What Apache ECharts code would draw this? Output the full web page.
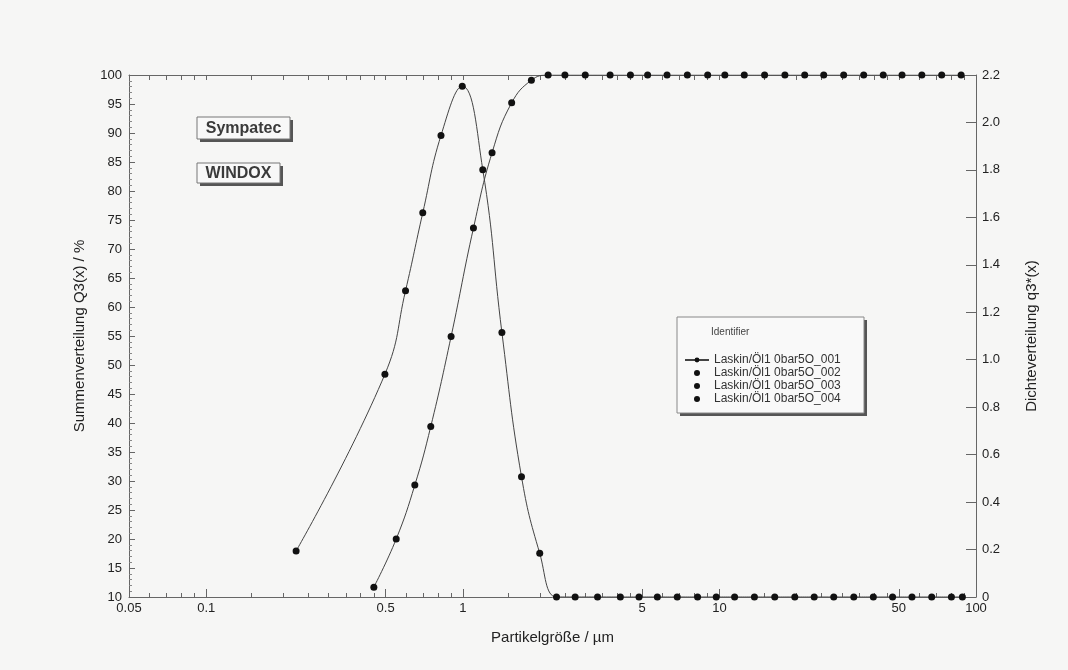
<!DOCTYPE html>
<html>
<head>
<meta charset="utf-8">
<script src="https://cdn.jsdelivr.net/npm/echarts@6/dist/echarts.min.js"></script>
<style>
html,body{margin:0;padding:0;background:#f6f6f5;}
#chart{width:1068px;height:670px;}
</style>
</head>
<body>
<div id="chart"></div>
<script>
// Cumulative distribution Q3(x) (upper class limits, %)
const q3SumX = [0.45, 0.55, 0.65, 0.75, 0.9, 1.1, 1.3, 1.55, 1.85, 2.15, 2.5, 3.0, 3.75, 4.5, 5.25, 6.25, 7.5, 9.0, 10.5, 12.5, 15, 18, 21.5, 25.5, 30.5, 36.5, 43.5, 51.5, 61.5, 73.5, 87.5];
const q3SumY = [11.7, 20.0, 29.3, 39.4, 54.9, 73.6, 86.6, 95.2, 99.1, 100, 100, 100, 100, 100, 100, 100, 100, 100, 100, 100, 100, 100, 100, 100, 100, 100, 100, 100, 100, 100, 100];
// Density distribution q3*(x) (class means)
const q3DensX = [0.224, 0.497, 0.598, 0.698, 0.822, 0.995, 1.196, 1.42, 1.693, 1.994, 2.318, 2.74, 3.35, 4.11, 4.86, 5.73, 6.85, 8.22, 9.72, 11.46, 13.69, 16.43, 19.67, 23.41, 27.9, 33.4, 39.8, 47.3, 56.3, 67.2, 80.2, 88.5];
const q3DensY = [0.194, 0.939, 1.291, 1.619, 1.945, 2.153, 1.801, 1.115, 0.507, 0.184, 0, 0, 0, 0, 0, 0, 0, 0, 0, 0, 0, 0, 0, 0, 0, 0, 0, 0, 0, 0, 0, 0];
// Tick labels
const xMajorTicks = [0.05, 0.1, 0.5, 1, 5, 10, 50, 100];
const xMinorTicks = [0.06, 0.07, 0.08, 0.09, 0.15, 0.2, 0.25, 0.3, 0.35, 0.4, 0.45, 0.6, 0.7, 0.8, 0.9, 1.5, 2, 2.5, 3, 3.5, 4, 4.5, 6, 7, 8, 9, 15, 20, 25, 30, 35, 40, 45, 60, 70, 80, 90];
const seriesNames = ['Laskin/Öl1 0bar5O_001', 'Laskin/Öl1 0bar5O_002', 'Laskin/Öl1 0bar5O_003', 'Laskin/Öl1 0bar5O_004'];

const sumData = q3SumX.map((x, i) => [x, q3SumY[i]]);
const densData = q3DensX.map((x, i) => [x, q3DensY[i]]);

const FONT = 'Liberation Sans, Arial, sans-serif';
const TXT = '#222';
const AX = '#666';

const chart = echarts.init(document.getElementById('chart'), null, {renderer: 'canvas'});

const grid = {left: 129, right: 92, top: 75, bottom: 73, containLabel: false};

function logAxis(extra) {
  return Object.assign({
    type: 'log', logBase: 10, min: 0.05, max: 100,
    splitLine: {show: false}, minorTick: {show: false}
  }, extra);
}

const option = {
  backgroundColor: '#f6f6f5',
  animation: false,
  grid: grid,
  xAxis: [
    logAxis({
      position: 'bottom',
      name: 'Partikelgröße / µm', nameLocation: 'middle', nameGap: 33,
      nameTextStyle: {fontFamily: FONT, fontSize: 15, color: TXT},
      axisLine: {show: true, lineStyle: {color: AX, width: 1}},
      axisTick: {show: true, inside: true, length: 8, customValues: xMajorTicks, lineStyle: {color: AX}},
      axisLabel: {show: true, customValues: xMajorTicks, margin: 5, fontFamily: FONT, fontSize: 13, color: TXT,
        formatter: v => String(+v.toPrecision(3))}
    }),
    logAxis({
      position: 'bottom',
      axisLine: {show: false},
      axisTick: {show: true, inside: true, length: 4, customValues: xMinorTicks, lineStyle: {color: AX}},
      axisLabel: {show: false}
    }),
    logAxis({
      position: 'top',
      axisLine: {show: true, lineStyle: {color: AX, width: 1}},
      axisTick: {show: true, inside: true, length: 5, customValues: xMajorTicks.concat(xMinorTicks), lineStyle: {color: AX}},
      axisLabel: {show: false}
    })
  ],
  yAxis: [
    {
      type: 'value', position: 'left', min: 10, max: 100, interval: 5,
      name: 'Summenverteilung Q3(x) / %', nameLocation: 'middle', nameGap: 42, nameRotate: 90,
      nameTextStyle: {fontFamily: FONT, fontSize: 15, color: TXT},
      axisLine: {show: true, lineStyle: {color: AX}},
      axisTick: {show: true, inside: true, length: 6, lineStyle: {color: AX}},
      minorTick: {show: true, splitNumber: 5, length: 3, lineStyle: {color: '#888'}},
      splitLine: {show: false},
      axisLabel: {margin: 7, fontFamily: FONT, fontSize: 13, color: TXT}
    },
    {
      type: 'value', position: 'right', min: 0, max: 2.2, interval: 0.2,
      name: 'Dichteverteilung q3*(x)', nameLocation: 'middle', nameGap: 48, nameRotate: 90,
      nameTextStyle: {fontFamily: FONT, fontSize: 15, color: TXT},
      axisLine: {show: true, lineStyle: {color: AX}},
      axisTick: {show: true, inside: true, length: 10, lineStyle: {color: AX}},
      splitLine: {show: false},
      axisLabel: {margin: 6, fontFamily: FONT, fontSize: 13, color: TXT,
        formatter: v => (Math.abs(v) < 1e-9 ? '0' : (+v).toFixed(1))}
    }
  ],
  legend: {
    orient: 'vertical', left: 679, top: 349, itemGap: 1, itemWidth: 24, itemHeight: 6,
    textStyle: {fontFamily: FONT, fontSize: 12, color: '#333'},
    data: [
      {name: seriesNames[0]},
      {name: seriesNames[1], icon: 'circle'},
      {name: seriesNames[2], icon: 'circle'},
      {name: seriesNames[3], icon: 'circle'}
    ]
  },
  graphic: [
    // Sympatec box
    {type: 'rect', shape: {x: 200, y: 120, width: 93, height: 22}, style: {fill: '#555'}, z: 10},
    {type: 'rect', shape: {x: 197, y: 117, width: 93, height: 22}, style: {fill: '#f8f8f8', stroke: '#777', lineWidth: 1}, z: 11},
    {type: 'text', x: 243.5, y: 128.5, style: {text: 'Sympatec', fontFamily: FONT, fontSize: 16, fontWeight: 'bold', fill: '#3a3a3a', align: 'center', verticalAlign: 'middle'}, z: 12},
    // WINDOX box
    {type: 'rect', shape: {x: 200, y: 166, width: 83, height: 20}, style: {fill: '#555'}, z: 10},
    {type: 'rect', shape: {x: 197, y: 163, width: 83, height: 20}, style: {fill: '#f8f8f8', stroke: '#777', lineWidth: 1}, z: 11},
    {type: 'text', x: 238.5, y: 173.5, style: {text: 'WINDOX', fontFamily: FONT, fontSize: 16, fontWeight: 'bold', fill: '#3a3a3a', align: 'center', verticalAlign: 'middle'}, z: 12},
    // Legend frame
    {type: 'rect', shape: {x: 680, y: 320, width: 187, height: 96}, style: {fill: '#555'}, z: 0},
    {type: 'rect', shape: {x: 677, y: 317, width: 187, height: 96}, style: {fill: '#f9f9f9', stroke: '#888', lineWidth: 1}, z: 1},
    {type: 'text', x: 711, y: 332, style: {text: 'Identifier', fontFamily: FONT, fontSize: 10, fill: '#444', verticalAlign: 'middle'}, z: 2}
  ],
  series: [
    {
      name: seriesNames[0], type: 'line', xAxisIndex: 0, yAxisIndex: 0,
      data: sumData, smooth: 0.45,
      symbol: 'circle', symbolSize: 7,
      itemStyle: {color: '#111'}, lineStyle: {color: '#444', width: 1}, z: 5
    },
    {
      name: seriesNames[1], type: 'line', xAxisIndex: 0, yAxisIndex: 1,
      data: densData, smooth: 0.45,
      symbol: 'circle', symbolSize: 7,
      itemStyle: {color: '#111'}, lineStyle: {color: '#444', width: 1}, z: 5
    },
    {
      name: seriesNames[2], type: 'line', xAxisIndex: 0, yAxisIndex: 0,
      data: [], symbol: 'circle', itemStyle: {color: '#111'}, lineStyle: {color: '#444', width: 1}
    },
    {
      name: seriesNames[3], type: 'line', xAxisIndex: 0, yAxisIndex: 1,
      data: [], symbol: 'circle', itemStyle: {color: '#111'}, lineStyle: {color: '#444', width: 1}
    }
  ]
};
chart.setOption(option);
</script>
</body>
</html>
